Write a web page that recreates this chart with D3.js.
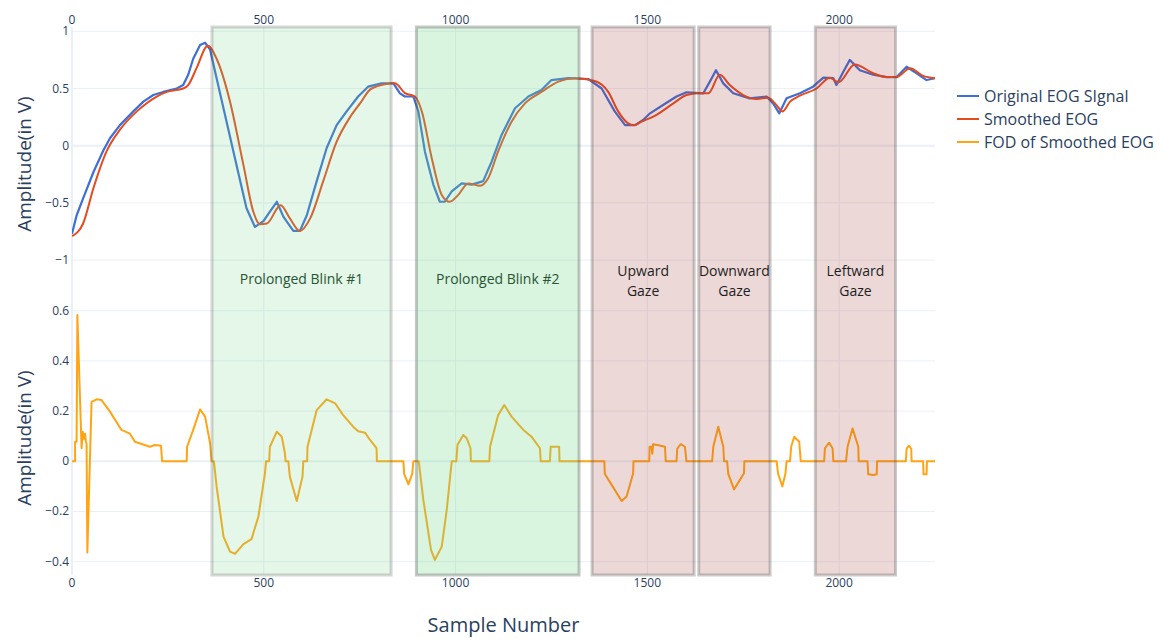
<!DOCTYPE html>
<html>
<head>
<meta charset="utf-8">
<script src="https://cdn.jsdelivr.net/npm/d3@7"></script>
<style>
  body { margin: 0; background: #fff; font-family: "Open Sans", verdana, arial, sans-serif; }
</style>
</head>
<body>
<div id="chart"></div>
<script>
// sample positions / values
const blueX = [0,12,29,56,82,99,125,160,186,212,238,273,290,303,316,334,347,360,377,403,429,455,477,499,516,534,551,577,594,612,638,664,690,716,746,772,807,838,855,868,890,903,920,942,959,972,990,1016,1042,1072,1094,1120,1155,1190,1224,1250,1294,1346,1381,1415,1442,1468,1489,1507,1541,1576,1602,1646,1663,1679,1698,1724,1767,1811,1828,1844,1863,1898,1932,1959,1985,1993,2011,2028,2054,2089,2124,2150,2176,2202,2228,2250]
const blueY = [-0.77,-0.61,-0.46,-0.23,-0.04,0.065,0.18,0.30,0.385,0.443,0.47,0.50,0.53,0.62,0.76,0.88,0.90,0.84,0.59,0.21,-0.17,-0.547,-0.71,-0.66,-0.577,-0.49,-0.62,-0.745,-0.745,-0.61,-0.31,-0.02,0.18,0.30,0.43,0.516,0.545,0.545,0.458,0.43,0.43,0.30,-0.05,-0.34,-0.49,-0.49,-0.40,-0.33,-0.34,-0.31,-0.14,0.094,0.327,0.43,0.487,0.574,0.59,0.583,0.50,0.30,0.18,0.18,0.225,0.283,0.356,0.43,0.467,0.458,0.56,0.66,0.545,0.458,0.414,0.43,0.37,0.283,0.414,0.458,0.516,0.595,0.59,0.53,0.647,0.75,0.66,0.62,0.60,0.60,0.69,0.633,0.574,0.59]

const redX = [0,29,56,90,125,169,221,247,290,303,325,354,377,412,447,473,490,508,544,568,594,621,655,690,725,751,781,842,868,894,912,938,964,985,1007,1033,1064,1085,1111,1146,1181,1224,1268,1311,1363,1398,1424,1450,1465,1485,1524,1568,1602,1633,1659,1689,1715,1750,1785,1815,1833,1853,1872,1898,1941,1976,1998,2041,2089,2124,2150,2185,2219,2250]
const redY = [-0.79,-0.68,-0.37,-0.05,0.14,0.30,0.43,0.47,0.50,0.53,0.68,0.874,0.76,0.385,-0.17,-0.58,-0.687,-0.68,-0.52,-0.635,-0.745,-0.635,-0.31,0.035,0.25,0.37,0.50,0.545,0.46,0.43,0.30,-0.11,-0.43,-0.49,-0.43,-0.33,-0.35,-0.285,-0.05,0.21,0.37,0.47,0.56,0.59,0.565,0.47,0.30,0.195,0.18,0.21,0.27,0.37,0.443,0.458,0.458,0.62,0.53,0.443,0.408,0.42,0.37,0.30,0.385,0.437,0.50,0.595,0.554,0.71,0.633,0.60,0.60,0.677,0.61,0.59]

const fodX = [0,8,8,12,14,21,25,28,31,34,36,38,40,51,64,77,99,129,151,164,203,216,232,235,299,300,316,334,347,360,364,370,377,395,412,425,447,468,486,503,506,514,516,534,547,555,557,564,568,586,601,603,613,614,638,664,686,707,733,746,764,777,794,795,864,866,877,887,890,904,916,936,946,964,977,990,1002,1005,1020,1029,1039,1040,1088,1090,1111,1127,1146,1164,1177,1198,1220,1222,1246,1248,1270,1271,1388,1389,1407,1433,1446,1463,1464,1505,1506,1511,1513,1515,1526,1546,1548,1576,1578,1587,1598,1602,1669,1672,1685,1698,1700,1708,1711,1726,1741,1752,1753,1837,1841,1852,1860,1863,1872,1875,1883,1896,1900,1961,1963,1974,1983,1985,2018,2022,2035,2050,2051,2074,2076,2089,2098,2099,2174,2176,2182,2188,2189,2219,2220,2228,2229,2250]
const fodY = [0,0,0.078,0.078,0.583,0.244,0.052,0.118,0.09,0.11,0.08,0.07,-0.363,0.237,0.247,0.244,0.198,0.125,0.11,0.078,0.058,0.065,0.062,0,0,0.058,0.125,0.207,0.178,0.072,0,0,-0.10,-0.30,-0.36,-0.369,-0.33,-0.31,-0.22,-0.048,0,0,0.058,0.118,0.098,0.033,0,0,-0.061,-0.158,-0.061,0,0,0.058,0.204,0.247,0.231,0.184,0.138,0.12,0.114,0.085,0.052,0,0,-0.05,-0.092,-0.05,0,0,-0.154,-0.353,-0.393,-0.34,-0.194,0,0,0.065,0.105,0.092,0.052,0,0,0.058,0.184,0.224,0.178,0.147,0.125,0.098,0.052,0,0,0.058,0.058,0,0,-0.05,-0.094,-0.158,-0.14,-0.048,0,0,0.058,0.058,0.03,0.068,0.065,0.058,0,0,0.05,0.068,0.058,0,0,0.058,0.138,0.058,0,0,-0.05,-0.112,-0.075,-0.048,0,0,-0.05,-0.10,-0.05,0,0,0.058,0.098,0.078,0,0,0.052,0.074,0.052,0,0,0.058,0.131,0.058,0,0,-0.052,-0.055,-0.052,0,0,0.05,0.062,0.05,0,0,-0.052,-0.052,0,0]

// marked regions (sample ranges)
const regionNames = ["Prolonged Blink #1", "Prolonged Blink #2", "Upward\nGaze", "Downward\nGaze", "Leftward\nGaze"]
const regionStart = [365, 898, 1356, 1634, 1938]
const regionEnd = [832, 1322, 1622, 1820, 2147]
const regionKind = ["blink1", "blink2", "gaze", "gaze", "gaze"]

const xTicks = [0, 500, 1000, 1500, 2000]
const topTicks = [1, 0.5, 0, -0.5, -1]
const bottomTicks = [0.6, 0.4, 0.2, 0, -0.2, -0.4]

const seriesNames = ["Original EOG SIgnal", "Smoothed EOG", "FOD of Smoothed EOG"]
const seriesColors = ["#3d6fd6", "#e64a1f", "#ffa514"]

const width = 1163, height = 642
const plot = { left: 72, right: 935, top: 27, mid: 301, bottom: 575 }
const textColor = "#2a3f5f", gridColor = "#ebf0f8"

const svg = d3.select("#chart").append("svg")
  .attr("width", width)
  .attr("height", height)
  .style("font-family", "'Open Sans', verdana, arial, sans-serif")

const x = d3.scaleLinear().domain([0, 2250]).range([plot.left, plot.right])
const yTop = d3.scaleLinear().domain([-1.3575, 1.0376]).range([plot.mid, plot.top])
const yBot = d3.scaleLinear().domain([-0.453, 0.6386]).range([plot.bottom, plot.mid])
const fmt = d3.format("~g")

// grid
const grid = svg.append("g")
grid.selectAll(".vg").data(xTicks).join("line")
  .attr("x1", d => x(d)).attr("x2", d => x(d))
  .attr("y1", plot.top).attr("y2", plot.bottom)
  .attr("stroke", gridColor).attr("stroke-width", d => d === 0 ? 2 : 1)
grid.selectAll(".hg1").data(topTicks).join("line")
  .attr("x1", plot.left).attr("x2", plot.right)
  .attr("y1", d => yTop(d)).attr("y2", d => yTop(d))
  .attr("stroke", gridColor).attr("stroke-width", d => d === 0 ? 2 : 1)
grid.selectAll(".hg2").data(bottomTicks).join("line")
  .attr("x1", plot.left).attr("x2", plot.right)
  .attr("y1", d => yBot(d)).attr("y2", d => yBot(d))
  .attr("stroke", gridColor).attr("stroke-width", d => d === 0 ? 2 : 1)

// traces
const blueData = blueX.map((d, i) => [d, blueY[i]])
const redData = redX.map((d, i) => [d, redY[i]])
const fodData = fodX.map((d, i) => [d, fodY[i]])

const clip = svg.append("clipPath").attr("id", "clip").append("rect")
  .attr("x", plot.left).attr("y", plot.top)
  .attr("width", plot.right - plot.left).attr("height", plot.bottom - plot.top)
const traces = svg.append("g").attr("clip-path", "url(#clip)")

traces.append("path").datum(blueData)
  .attr("fill", "none").attr("stroke", seriesColors[0]).attr("stroke-width", 2.2)
  .attr("stroke-linejoin", "round")
  .attr("d", d3.line().x(d => x(d[0])).y(d => yTop(d[1])))
traces.append("path").datum(redData)
  .attr("fill", "none").attr("stroke", seriesColors[1]).attr("stroke-width", 2)
  .attr("d", d3.line().x(d => x(d[0])).y(d => yTop(d[1])).curve(d3.curveMonotoneX))
traces.append("path").datum(fodData)
  .attr("fill", "none").attr("stroke", seriesColors[2]).attr("stroke-width", 2)
  .attr("stroke-linejoin", "round")
  .attr("d", d3.line().x(d => x(d[0])).y(d => yBot(d[1])))

// shaded regions (drawn over the traces, like plotly shapes)
const fills = { blink1: ["rgb(120,215,140)", 0.2, 0.22], blink2: ["rgb(120,215,140)", 0.28, 0.3], gaze: ["rgb(165,60,60)", 0.2, 0.28] }
const regions = svg.append("g")
regionNames.forEach(function (name, i) {
  const f = fills[regionKind[i]]
  regions.append("rect")
    .attr("x", x(regionStart[i])).attr("y", plot.top)
    .attr("width", x(regionEnd[i]) - x(regionStart[i]))
    .attr("height", plot.bottom - plot.top)
    .attr("fill", f[0]).attr("fill-opacity", f[1])
    .attr("stroke", "rgb(70,70,70)").attr("stroke-opacity", f[2]).attr("stroke-width", 3)
  const cx = (x(regionStart[i]) + x(regionEnd[i])) / 2
  const lines = name.split("\n")
  const isBlink = regionKind[i] !== "gaze"
  const t = regions.append("text")
    .attr("x", cx).attr("y", isBlink ? 284 : 276)
    .attr("text-anchor", "middle")
    .attr("font-size", 14)
    .attr("fill", isBlink ? "#2a5534" : "#231e1e")
  lines.forEach(function (l, j) {
    t.append("tspan").attr("x", cx).attr("dy", j === 0 ? 0 : 19.5).text(l)
  })
})

// tick labels
const labels = svg.append("g").attr("font-size", 12).attr("fill", textColor)
labels.selectAll(".xt").data(xTicks).join("text")
  .attr("x", d => x(d)).attr("y", 24).attr("text-anchor", "middle").text(d => fmt(d))
labels.selectAll(".xb").data(xTicks).join("text")
  .attr("x", d => x(d)).attr("y", 587).attr("text-anchor", "middle").text(d => fmt(d))
labels.selectAll(".yt").data(topTicks).join("text")
  .attr("x", 69).attr("y", d => yTop(d) + 4).attr("text-anchor", "end").text(d => fmt(d))
labels.selectAll(".yb").data(bottomTicks).join("text")
  .attr("x", 69).attr("y", d => yBot(d) + 4).attr("text-anchor", "end").text(d => fmt(d))

// axis titles
svg.append("text")
  .attr("transform", `translate(31, ${(plot.top + plot.mid) / 2}) rotate(-90)`)
  .attr("text-anchor", "middle").attr("font-size", 19).attr("fill", textColor)
  .text("Amplitude(in V)")
svg.append("text")
  .attr("transform", `translate(31, ${(plot.mid + plot.bottom) / 2}) rotate(-90)`)
  .attr("text-anchor", "middle").attr("font-size", 19).attr("fill", textColor)
  .text("Amplitude(in V)")
svg.append("text")
  .attr("x", (plot.left + plot.right) / 2).attr("y", 632)
  .attr("text-anchor", "middle").attr("font-size", 20).attr("fill", textColor)
  .text("Sample Number")

// legend
const legend = svg.append("g").attr("transform", "translate(957, 96)")
seriesNames.forEach(function (name, i) {
  legend.append("line")
    .attr("x1", 0).attr("x2", 22).attr("y1", i * 23).attr("y2", i * 23)
    .attr("stroke", seriesColors[i]).attr("stroke-width", 2)
  legend.append("text")
    .attr("x", 27).attr("y", i * 23 + 5.5)
    .attr("font-size", 16).attr("fill", textColor)
    .text(name)
})
</script>
</body>
</html>
